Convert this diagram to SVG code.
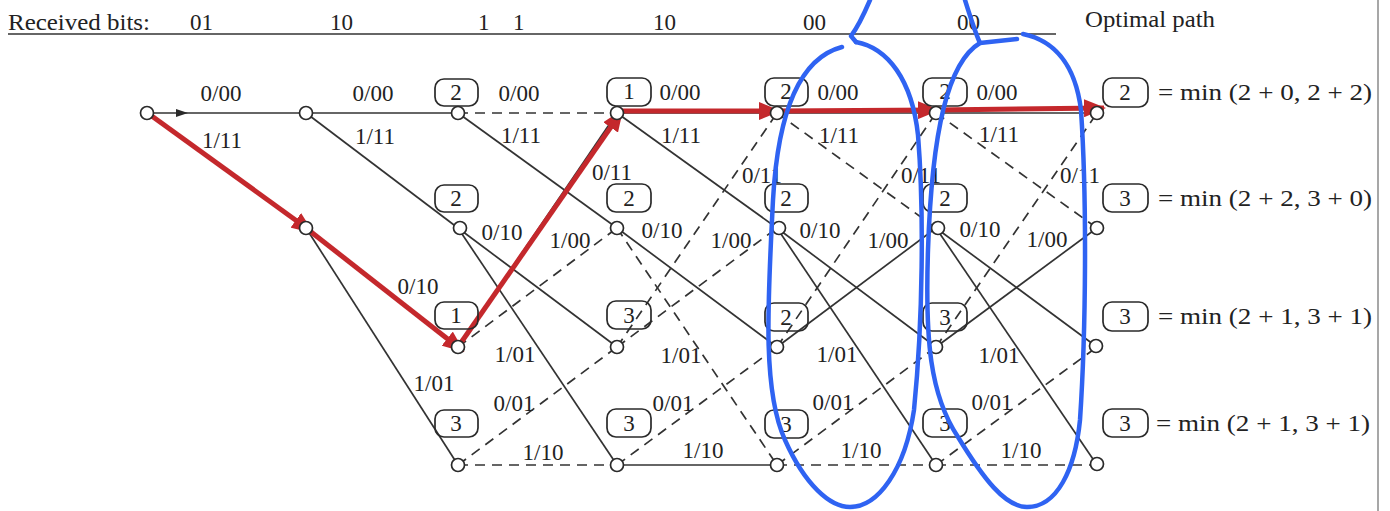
<svg xmlns="http://www.w3.org/2000/svg" width="1390" height="511" viewBox="0 0 1390 511">
<defs>
<style>
text{font-family:"Liberation Serif","Times New Roman",serif;fill:#222;}
.lb{font-size:23px;text-anchor:middle;}
.hd{font-size:23px;}
.mt{font-size:23px;text-anchor:middle;}
.eq{font-size:23px;}
.e{stroke:#333;stroke-width:1.7;fill:none;}
.d{stroke-dasharray:10 7;}
.n{fill:#fff;stroke:#2a2a2a;stroke-width:1.7;}
.bx{fill:none;stroke:#2a2a2a;stroke-width:1.7;}
.red{stroke:#c4282c;stroke-width:5;fill:none;marker-end:url(#ra);}
.blue{stroke:#2f63f2;stroke-width:4.5;fill:none;stroke-linecap:round;stroke-linejoin:round;}
</style>
<marker id="ra" viewBox="0 0 22 18" refX="20" refY="9" markerWidth="22" markerHeight="18" markerUnits="userSpaceOnUse" orient="auto">
<path d="M0,0 L22,9 L0,18 Z" fill="#c4282c"/>
</marker>
</defs>
<rect width="1390" height="511" fill="#fff"/>
<line x1="1378" y1="0" x2="1378" y2="511" stroke="#8a8a8a" stroke-width="1.5"/>

<g id="header">
<line x1="8" y1="34" x2="1056" y2="34" stroke="#333" stroke-width="1.6"/>
<text class="hd" x="8" y="30" textLength="142" lengthAdjust="spacingAndGlyphs">Received bits:</text>
<text class="hd" x="190" y="30">01</text>
<text class="hd" x="330" y="30">10</text>
<text class="hd" x="478" y="30">1</text>
<text class="hd" x="513" y="30">1</text>
<text class="hd" x="653" y="30">10</text>
<text class="hd" x="803" y="30">00</text>
<text class="hd" x="957" y="30">00</text>
<text class="hd" x="1085" y="27" textLength="130" lengthAdjust="spacingAndGlyphs">Optimal path</text>
</g>

<g id="connectors">
<line class="e" x1="147" y1="113" x2="306" y2="113"/>
<path d="M176,109 L188,113 L176,117 Z" fill="#2a2a2a"/>
<line class="e" x1="147" y1="113" x2="306" y2="228"/>
<line class="e" x1="306" y1="113" x2="458" y2="113"/>
<line class="e" x1="306" y1="113" x2="458" y2="228"/>
<line class="e" x1="306" y1="228" x2="458" y2="347"/>
<line class="e" x1="306" y1="228" x2="458" y2="465"/>

<line class="e d" x1="458" y1="113" x2="617" y2="113"/>
<line class="e" x1="458" y1="113" x2="617" y2="228"/>
<line class="e" x1="458" y1="228" x2="617" y2="347"/>
<line class="e" x1="458" y1="228" x2="617" y2="465"/>
<line class="e" x1="458" y1="347" x2="617" y2="113"/>
<line class="e d" x1="458" y1="347" x2="617" y2="228"/>
<line class="e d" x1="458" y1="465" x2="617" y2="347"/>
<line class="e d" x1="458" y1="465" x2="617" y2="465"/>

<line class="e" x1="617" y1="113" x2="777" y2="113"/>
<line class="e" x1="617" y1="113" x2="777" y2="228"/>
<line class="e" x1="617" y1="228" x2="777" y2="347"/>
<line class="e d" x1="617" y1="228" x2="777" y2="465"/>
<line class="e d" x1="617" y1="347" x2="777" y2="113"/>
<line class="e d" x1="617" y1="347" x2="777" y2="228"/>
<line class="e d" x1="617" y1="465" x2="777" y2="347"/>
<line class="e" x1="617" y1="465" x2="777" y2="465"/>

<line class="e" x1="777" y1="113" x2="936" y2="113"/>
<line class="e d" x1="777" y1="113" x2="936" y2="228"/>
<line class="e" x1="777" y1="228" x2="936" y2="347"/>
<line class="e" x1="777" y1="228" x2="936" y2="465"/>
<line class="e d" x1="777" y1="347" x2="936" y2="113"/>
<line class="e" x1="777" y1="347" x2="936" y2="228"/>
<line class="e d" x1="777" y1="465" x2="936" y2="347"/>
<line class="e d" x1="777" y1="465" x2="936" y2="465"/>

<line class="e" x1="936" y1="113" x2="1097" y2="113"/>
<line class="e d" x1="936" y1="113" x2="1097" y2="228"/>
<line class="e" x1="936" y1="228" x2="1097" y2="347"/>
<line class="e" x1="936" y1="228" x2="1097" y2="465"/>
<line class="e d" x1="936" y1="347" x2="1097" y2="113"/>
<line class="e" x1="936" y1="347" x2="1097" y2="228"/>
<line class="e d" x1="936" y1="465" x2="1097" y2="347"/>
<line class="e d" x1="936" y1="465" x2="1097" y2="465"/>

<g id="labels">
<text class="lb" x="221" y="101">0/00</text>
<text class="lb" x="222" y="148">1/11</text>
<text class="lb" x="373" y="101">0/00</text>
<text class="lb" x="375" y="144">1/11</text>
<text class="lb" x="418" y="294">0/10</text>
<text class="lb" x="434" y="391">1/01</text>

<text class="lb" x="519" y="101">0/00</text>
<text class="lb" x="521" y="143">1/11</text>
<text class="lb" x="612" y="180">0/11</text>
<text class="lb" x="502" y="240">0/10</text>
<text class="lb" x="570" y="248">1/00</text>
<text class="lb" x="515" y="362">1/01</text>
<text class="lb" x="514" y="411">0/01</text>
<text class="lb" x="543" y="460">1/10</text>

<text class="lb" x="680" y="100">0/00</text>
<text class="lb" x="681" y="143">1/11</text>
<text class="lb" x="762" y="183">0/11</text>
<text class="lb" x="662" y="238">0/10</text>
<text class="lb" x="731" y="248">1/00</text>
<text class="lb" x="681" y="363">1/01</text>
<text class="lb" x="673" y="411">0/01</text>
<text class="lb" x="703" y="458">1/10</text>

<text class="lb" x="838" y="100">0/00</text>
<text class="lb" x="839" y="143">1/11</text>
<text class="lb" x="921" y="183">0/11</text>
<text class="lb" x="820" y="238">0/10</text>
<text class="lb" x="888" y="248">1/00</text>
<text class="lb" x="837" y="362">1/01</text>
<text class="lb" x="833" y="410">0/01</text>
<text class="lb" x="861" y="458">1/10</text>

<text class="lb" x="997" y="100">0/00</text>
<text class="lb" x="999" y="142">1/11</text>
<text class="lb" x="1080" y="183">0/11</text>
<text class="lb" x="980" y="237">0/10</text>
<text class="lb" x="1047" y="247">1/00</text>
<text class="lb" x="999" y="363">1/01</text>
<text class="lb" x="992" y="410">0/01</text>
<text class="lb" x="1021" y="458">1/10</text>
</g>

<g id="optimal-path">
<line class="red" x1="149" y1="114" x2="312" y2="232"/>
<line class="red" x1="306" y1="228" x2="463" y2="351"/>
<line class="red" x1="458" y1="347" x2="622" y2="111"/>
<line class="red" x1="618" y1="111" x2="779" y2="111"/>
<line class="red" x1="777" y1="111" x2="938" y2="110"/>
<line class="red" x1="936" y1="110" x2="1104" y2="108"/>
</g>
</g>

<g id="n0-0"><circle class="n" cx="147" cy="113" r="6.5"/></g>
<g id="n1-0"><circle class="n" cx="306" cy="113" r="6.5"/></g>
<g id="n1-1"><circle class="n" cx="306" cy="228" r="6.5"/></g>

<g id="n2-0"><rect class="bx" x="435" y="79" width="43" height="27" rx="9"/><text class="mt" x="456" y="100">2</text><circle class="n" cx="458" cy="113" r="6.5"/></g>
<g id="n2-1"><rect class="bx" x="435" y="185" width="43" height="27" rx="9"/><text class="mt" x="456" y="206">2</text><circle class="n" cx="460" cy="228" r="6.5"/></g>
<g id="n2-2"><rect class="bx" x="435" y="302" width="43" height="27" rx="9"/><text class="mt" x="456" y="323">1</text><circle class="n" cx="458" cy="347" r="6.5"/></g>
<g id="n2-3"><rect class="bx" x="435" y="410" width="43" height="27" rx="9"/><text class="mt" x="456" y="431">3</text><circle class="n" cx="458" cy="465" r="6.5"/></g>

<g id="n3-0"><rect class="bx" x="607" y="78" width="44" height="28" rx="9"/><text class="mt" x="629" y="99">1</text><circle class="n" cx="617" cy="113" r="6.5"/></g>
<g id="n3-1"><rect class="bx" x="607" y="184" width="44" height="28" rx="9"/><text class="mt" x="629" y="206">2</text><circle class="n" cx="617" cy="228" r="6.5"/></g>
<g id="n3-2"><rect class="bx" x="607" y="301" width="44" height="28" rx="9"/><text class="mt" x="629" y="323">3</text><circle class="n" cx="617" cy="347" r="6.5"/></g>
<g id="n3-3"><rect class="bx" x="607" y="409" width="44" height="28" rx="9"/><text class="mt" x="629" y="431">3</text><circle class="n" cx="617" cy="465" r="6.5"/></g>

<g id="n4-0"><rect class="bx" x="765" y="78" width="43" height="28" rx="9"/><text class="mt" x="786" y="99">2</text><circle class="n" cx="777" cy="113" r="6.5"/></g>
<g id="n4-1"><rect class="bx" x="765" y="184" width="43" height="28" rx="9"/><text class="mt" x="786" y="206">2</text><circle class="n" cx="779" cy="228" r="6.5"/></g>
<g id="n4-2"><rect class="bx" x="765" y="303" width="43" height="28" rx="9"/><text class="mt" x="786" y="325">2</text><circle class="n" cx="777" cy="347" r="6.5"/></g>
<g id="n4-3"><rect class="bx" x="765" y="410" width="43" height="28" rx="9"/><text class="mt" x="786" y="432">3</text><circle class="n" cx="777" cy="465" r="6.5"/></g>

<g id="n5-0"><rect class="bx" x="923" y="78" width="44" height="28" rx="9"/><text class="mt" x="945" y="99">2</text><circle class="n" cx="936" cy="113" r="6.5"/></g>
<g id="n5-1"><rect class="bx" x="923" y="184" width="44" height="28" rx="9"/><text class="mt" x="945" y="206">2</text><circle class="n" cx="938" cy="228" r="6.5"/></g>
<g id="n5-2"><rect class="bx" x="923" y="303" width="44" height="28" rx="9"/><text class="mt" x="945" y="325">3</text><circle class="n" cx="936" cy="347" r="6.5"/></g>
<g id="n5-3"><rect class="bx" x="923" y="409" width="44" height="28" rx="9"/><text class="mt" x="945" y="431">3</text><circle class="n" cx="936" cy="465" r="6.5"/></g>

<g id="n6-0"><rect class="bx" x="1103" y="78" width="45" height="29" rx="9"/><text class="mt" x="1125" y="100">2</text><text class="eq" x="1158" y="100" textLength="214" lengthAdjust="spacingAndGlyphs">= min (2 + 0, 2 + 2)</text><circle class="n" cx="1097" cy="113" r="6.5"/></g>
<g id="n6-1"><rect class="bx" x="1103" y="184" width="45" height="28" rx="9"/><text class="mt" x="1125" y="206">3</text><text class="eq" x="1158" y="206" textLength="214" lengthAdjust="spacingAndGlyphs">= min (2 + 2, 3 + 0)</text><circle class="n" cx="1097" cy="228" r="6.5"/></g>
<g id="n6-2"><rect class="bx" x="1103" y="302" width="45" height="29" rx="9"/><text class="mt" x="1125" y="324">3</text><text class="eq" x="1158" y="324" textLength="214" lengthAdjust="spacingAndGlyphs">= min (2 + 1, 3 + 1)</text><circle class="n" cx="1096" cy="346" r="6.5"/></g>
<g id="n6-3"><rect class="bx" x="1103" y="409" width="45" height="28" rx="9"/><text class="mt" x="1125" y="431">3</text><text class="eq" x="1156" y="431" textLength="214" lengthAdjust="spacingAndGlyphs">= min (2 + 1, 3 + 1)</text><circle class="n" cx="1097" cy="464" r="6.5"/></g>

<g id="annotations">
<path class="blue" d="M870,0 C864,14 857,28 851,36 L856,42"/>
<path class="blue" d="M842,47 C800,58 778,110 773,200 C768,300 762,390 785,440 C805,485 830,507 850,507 C878,507 905,470 914,410 C923,320 924,210 918,135 C912,80 888,48 856,42"/>
<path class="blue" d="M965,0 C970,16 975,32 980,43"/>
<path class="blue" d="M1017,39 L980,43 C948,62 932,130 928,250 C925,340 930,395 958,437 C983,478 1005,507 1027,507 C1057,507 1075,470 1080,420 C1086,330 1087,200 1081,110 C1075,62 1052,40 1023,34"/>
</g>
</svg>
